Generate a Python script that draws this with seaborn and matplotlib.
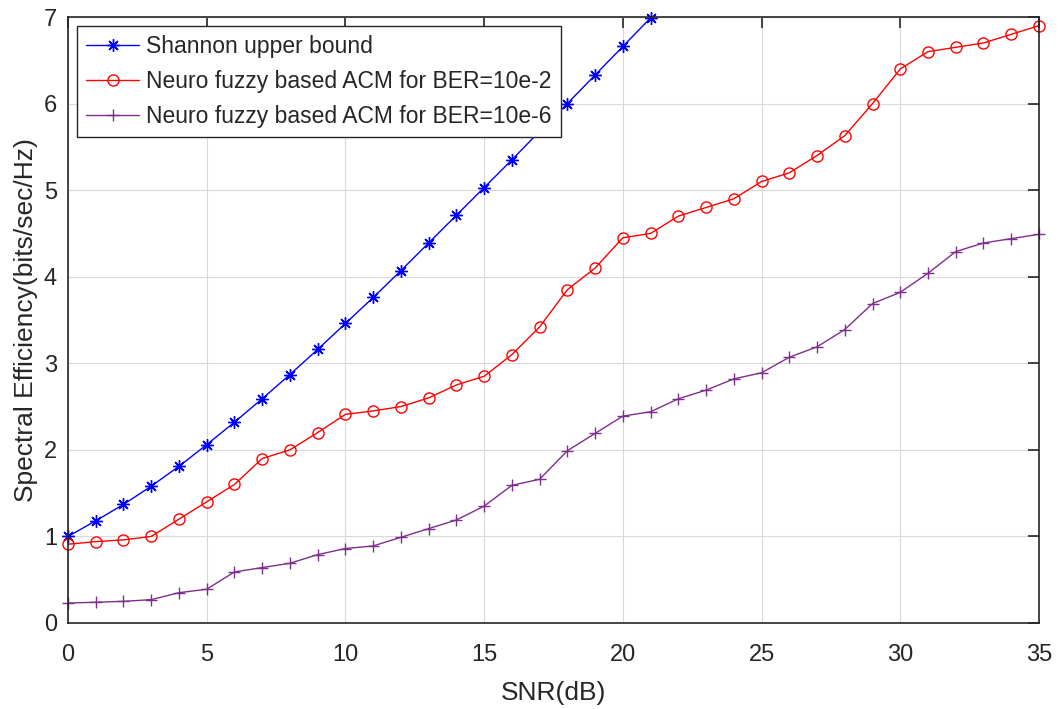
import matplotlib
matplotlib.use("Agg")
import matplotlib.pyplot as plt
import seaborn as sns
import pandas as pd

# SNR axis (dB)
snr_shannon = list(range(0, 22))
snr_acm = list(range(0, 36))

# Shannon capacity bound (bits/sec/Hz)
shannon = [1.00, 1.18, 1.37, 1.58, 1.81, 2.06, 2.32, 2.59, 2.87, 3.16, 3.46,
           3.76, 4.07, 4.39, 4.71, 5.03, 5.35, 5.68, 6.00, 6.33, 6.66, 6.99]

# Neuro fuzzy ACM, BER = 10e-2
acm_ber2 = [0.91, 0.94, 0.96, 1.00, 1.20, 1.40, 1.60, 1.90, 2.00, 2.20, 2.41,
            2.45, 2.50, 2.60, 2.75, 2.85, 3.10, 3.42, 3.85, 4.10, 4.45, 4.50,
            4.70, 4.80, 4.90, 5.10, 5.20, 5.40, 5.63, 6.00, 6.40, 6.60, 6.65,
            6.70, 6.80, 6.90]

# Neuro fuzzy ACM, BER = 10e-6
acm_ber6 = [0.23, 0.24, 0.25, 0.27, 0.35, 0.39, 0.59, 0.64, 0.69, 0.79, 0.86,
            0.89, 0.99, 1.09, 1.19, 1.35, 1.59, 1.66, 1.99, 2.19, 2.39, 2.44,
            2.59, 2.69, 2.82, 2.89, 3.07, 3.19, 3.39, 3.69, 3.82, 4.04, 4.29,
            4.39, 4.44, 4.49]

labels = ["Shannon upper bound",
          "Neuro fuzzy based ACM for BER=10e-2",
          "Neuro fuzzy based ACM for BER=10e-6"]

df_shannon = pd.DataFrame({"snr": snr_shannon, "se": shannon})
df_b2 = pd.DataFrame({"snr": snr_acm, "se": acm_ber2})
df_b6 = pd.DataFrame({"snr": snr_acm, "se": acm_ber6})

sns.set_style("white")
plt.rcParams["font.family"] = ["Liberation Sans", "DejaVu Sans"]

fig = plt.figure(figsize=(10.59, 7.09), dpi=100)
ax = fig.add_axes([0.0642, 0.1213, 0.9169, 0.8547])

blue = "#0000ff"
red = "#ff0000"
purple = "#7e2f8e"

sns.lineplot(data=df_shannon, x="snr", y="se", ax=ax, color=blue, lw=1.0,
             marker=(8, 2, 0), markersize=9, markeredgecolor=blue,
             markeredgewidth=1.0, label=labels[0], clip_on=False)
sns.lineplot(data=df_b2, x="snr", y="se", ax=ax, color=red, lw=1.0,
             marker="o", markersize=8, markerfacecolor="none",
             markeredgecolor=red, markeredgewidth=1.0, label=labels[1],
             clip_on=False)
sns.lineplot(data=df_b6, x="snr", y="se", ax=ax, color=purple, lw=1.0,
             marker="+", markersize=9, markeredgecolor=purple,
             markeredgewidth=1.0, label=labels[2], clip_on=False)

ax.set_xlim(0, 35)
ax.set_ylim(0, 7)
ax.set_xticks(range(0, 36, 5))
ax.set_yticks(range(0, 8))

ax.grid(True, color="#d9d9d9", lw=0.8)
ax.set_axisbelow(True)

for sp in ax.spines.values():
    sp.set_color("#262626")
    sp.set_linewidth(1.2)

ax.tick_params(direction="in", length=8, width=1.2, color="#262626",
               top=True, right=True, labelsize=17, labelcolor="#262626")
ax.tick_params(axis="x", pad=15)
ax.tick_params(axis="y", pad=8)

ax.set_xlabel("SNR(dB)", fontsize=19, color="#262626", labelpad=11)
ax.set_ylabel("Spectral Efficiency(bits/sec/Hz)", fontsize=19,
              color="#262626", labelpad=4)

leg = ax.legend(loc="upper left", fontsize=16.5, frameon=True, fancybox=False,
                edgecolor="#262626", framealpha=1.0, handlelength=2.3,
                borderaxespad=0.4, borderpad=0.4, labelspacing=0.52,
                handletextpad=0.3)
leg.get_frame().set_linewidth(1.0)

fig.savefig("out.png", dpi=100)
